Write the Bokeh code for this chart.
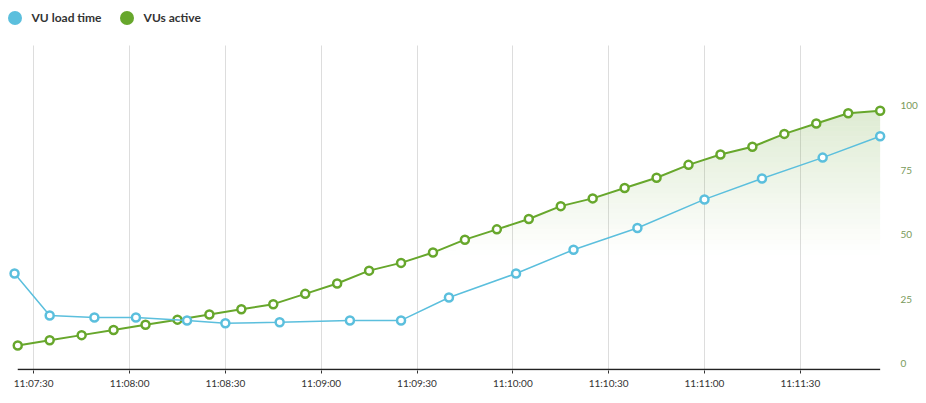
from datetime import datetime
import numpy as np
from bokeh.plotting import figure
from bokeh.models import (Range1d, LinearAxis, FixedTicker, SingleIntervalTicker,
                          DatetimeTickFormatter, Legend, LegendItem)
from bokeh.embed import file_html
from bokeh.resources import INLINE

DAY = "2017-01-01 "

# VUs active (green series, right axis)
vus_times = ["11:07:25", "11:07:35", "11:07:45", "11:07:55", "11:08:05", "11:08:15",
             "11:08:25", "11:08:35", "11:08:45", "11:08:55", "11:09:05", "11:09:15",
             "11:09:25", "11:09:35", "11:09:45", "11:09:55", "11:10:05", "11:10:15",
             "11:10:25", "11:10:35", "11:10:45", "11:10:55", "11:11:05", "11:11:15",
             "11:11:25", "11:11:35", "11:11:45", "11:11:55"]
vus_active = [7, 9, 11, 13, 15, 17, 19, 21, 23, 27, 31, 36, 39, 43,
              48, 52, 56, 61, 64, 68, 72, 77, 81, 84, 89, 93, 97, 98]

# VU load time (blue series, hidden scale)
load_times = ["11:07:24", "11:07:35", "11:07:49", "11:08:02", "11:08:18", "11:08:30",
              "11:08:47", "11:09:09", "11:09:25", "11:09:40", "11:10:01", "11:10:19",
              "11:10:39", "11:11:00", "11:11:18", "11:11:37", "11:11:55"]
load_values = [34.9, 18.6, 17.8, 17.8, 16.7, 15.6, 16.0, 16.7, 16.7, 25.6,
               34.9, 44.1, 52.5, 63.6, 71.7, 79.8, 88.1]

y_ticks = [0, 25, 50, 75, 100]

BLUE = "#5bbfdd"
GREEN = "#67a72c"
FILL = "#6aa536"
FONT = "Lato"


def ts(s):
    fmt = "%Y-%m-%d %H:%M:%S.%f" if "." in s else "%Y-%m-%d %H:%M:%S"
    return datetime.strptime(DAY + s, fmt)


gx = [ts(t) for t in vus_times]
bx = [ts(t) for t in load_times]

Y_START, Y_END = -2.71, 140.7
GRID_TOP = 123.3
BASE = -2.33

p = figure(width=920, height=400, x_axis_type="datetime", y_axis_location=None,
           x_range=Range1d(ts("11:07:19.6"), ts("11:11:57.3")),
           y_range=Range1d(Y_START, Y_END),
           output_backend="svg", toolbar_location=None,
           min_border_left=0, min_border_right=32, min_border_top=0, min_border_bottom=30)
p.extra_y_ranges = {"load": Range1d(Y_START, Y_END)}
p.outline_line_color = None
p.background_fill_color = "white"
p.border_fill_color = "white"

# x axis
xt = SingleIntervalTicker(interval=30000, num_minor_ticks=0)
xa = p.xaxis[0]
xa.ticker = xt
fmt = "%H:%M:%S"
xa.formatter = DatetimeTickFormatter(seconds=fmt, minsec=fmt, minutes=fmt, hourmin=fmt,
                                     hours=fmt, milliseconds=fmt, days=fmt)
xa.axis_line_color = None
xa.major_tick_line_color = "#333333"
xa.major_tick_out = 3
xa.major_tick_in = 0
xa.minor_tick_line_color = None
xa.major_label_text_font = FONT
xa.major_label_text_font_size = "10px"
xa.major_label_text_color = "#333333"
xa.major_label_standoff = 3

p.xgrid.ticker = xt
p.xgrid.grid_line_color = "#dddddd"
p.xgrid.grid_line_width = 1
p.xgrid.cross_bounds = (Y_START, GRID_TOP)
p.ygrid.visible = False

# right axis
ra = LinearAxis(ticker=FixedTicker(ticks=y_ticks))
ra.axis_line_color = None
ra.major_tick_line_color = None
ra.minor_tick_line_color = None
ra.major_label_standoff = 7
ra.major_label_text_font = FONT
ra.major_label_text_font_size = "10px"
ra.major_label_text_color = "#7a9a5b"
p.add_layout(ra, "right")

# gradient-like fill under the green series: tiled bands that never exceed the line
g = np.array(vus_active, dtype=float)
edges = np.linspace(42, 100, 30)
for lo, hi in zip(edges[:-1], edges[1:]):
    a = 0.22 * ((lo + hi) / 2 - 42) / (98 - 42)
    p.varea(x=gx, y1=np.minimum(g, lo), y2=np.minimum(g, hi), fill_color=FILL, fill_alpha=a)

# baseline from first to last sample
p.segment(x0=gx[0], y0=BASE, x1=gx[-1], y1=BASE, line_color="#222222", line_width=1.5)

# series
p.line(gx, vus_active, line_color=GREEN, line_width=2)
p.scatter(gx, vus_active, size=8, fill_color="white", line_color=GREEN, line_width=2.5)
p.line(bx, load_values, line_color=BLUE, line_width=1.5, y_range_name="load")
p.scatter(bx, load_values, size=8, fill_color="white", line_color=BLUE, line_width=2.5,
          y_range_name="load")

# legend swatches (a NaN point: nothing drawn in the plot)
d1 = p.scatter(x=[gx[0]], y=[np.nan], size=0, fill_color=BLUE, line_color=None)
d2 = p.scatter(x=[gx[0]], y=[np.nan], size=0, fill_color=GREEN, line_color=None)
legend = Legend(items=[LegendItem(label="VU load time", renderers=[d1]),
                       LegendItem(label="VUs active", renderers=[d2])],
                orientation="horizontal", location=(-3.5, 335.5),
                glyph_width=35, glyph_height=35, label_height=14, label_standoff=-4,
                spacing=7, padding=0, margin=0,
                background_fill_alpha=0, border_line_alpha=0,
                label_text_font=FONT, label_text_font_style="bold",
                label_text_font_size="12px", label_text_color="#333333")
p.add_layout(legend, "center")

open("out.html", "w").write(file_html(p, INLINE))
